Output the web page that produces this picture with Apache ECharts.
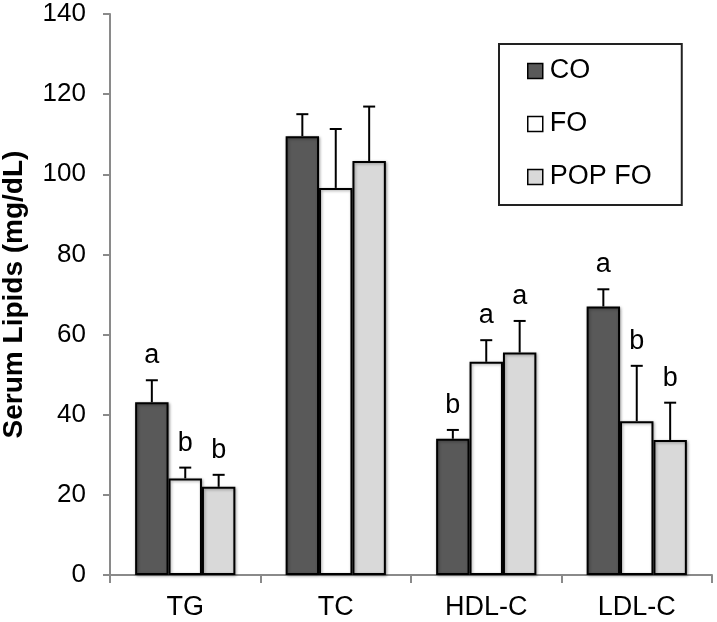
<!DOCTYPE html>
<html><head><meta charset="utf-8">
<script src="https://cdn.jsdelivr.net/npm/echarts@6/dist/echarts.min.js"></script>
<style>html,body{margin:0;padding:0;background:#fff}#c{width:717px;height:622px}</style>
</head><body><div id="c"></div>
<script>
var categories = ['TG', 'TC', 'HDL-C', 'LDL-C'];
var seriesNames = ['CO', 'FO', 'POP FO'];
var coValues = [43.1, 109.5, 34.0, 67.0];
var foValues = [24.1, 96.6, 53.2, 38.4];
var popValues = [22.0, 103.3, 55.5, 33.7];
var coErr = [48.6, 115.0, 36.2, 71.3];
var foErr = [26.8, 111.3, 58.6, 52.2];
var popErr = [25.0, 116.9, 63.4, 43.0];
var coLetters = ['a', '', 'b', 'a'];
var foLetters = ['b', '', 'a', 'b'];
var popLetters = ['b', '', 'a', 'b'];
var yTicks = [0, 20, 40, 60, 80, 100, 120, 140];

var colors = ['#595959', '#ffffff', '#d9d9d9'];
var values = [coValues, foValues, popValues];
var errs = [coErr, foErr, popErr];
var letters = [coLetters, foLetters, popLetters];
var FONT = '"Liberation Sans", Arial, sans-serif';
var BW = 0.222;

var chart = echarts.init(document.getElementById('c'));
var series = [];
values.forEach(function (vals, s) {
  series.push({
    name: seriesNames[s], type: 'bar', data: vals, barWidth: (BW * 100) + '%', barGap: '0%',
    itemStyle: { color: colors[s], borderColor: '#000', borderWidth: 2,
      shadowColor: 'rgba(0,0,0,0.35)', shadowBlur: 3, shadowOffsetX: 1, shadowOffsetY: 1 },
    z: 2
  });
});
values.forEach(function (vals, s) {
  var d = vals.map(function (v, i) { return [i, v, errs[s][i]]; });
  series.push({
    type: 'custom', data: d, z: 5, silent: true,
    renderItem: function (params, api) {
      var i = api.value(0);
      var catW = api.size([1, 0])[0];
      var bw = catW * BW;
      var base = api.coord([i, api.value(1)]);
      var top = api.coord([i, api.value(2)]);
      var x = base[0] + (s - 1) * bw;
      var cap = 6;
      var children = [
        { type: 'line', shape: { x1: x, y1: base[1], x2: x, y2: top[1] }, style: { stroke: '#000', lineWidth: 2 } },
        { type: 'line', shape: { x1: x - cap, y1: top[1], x2: x + cap, y2: top[1] }, style: { stroke: '#000', lineWidth: 2 } }
      ];
      var letter = letters[s][params.dataIndex];
      if (letter) {
        children.push({ type: 'text', style: { text: letter, x: x, y: top[1] - 11, align: 'center', verticalAlign: 'bottom',
          font: '27px ' + FONT, fill: '#000' } });
      }
      return { type: 'group', children: children };
    }
  });
});

chart.setOption({
  animation: false,
  backgroundColor: '#fff',
  grid: { left: 110, right: 5, top: 14, bottom: 47, containLabel: false, outerBoundsMode: 'none' },
  legend: {
    left: 499, top: 44, orient: 'vertical',
    data: seriesNames, itemWidth: 15, itemHeight: 15, itemGap: 25,
    padding: [13, 30, 14, 28],
    borderColor: '#222', borderWidth: 2,
    textStyle: { fontSize: 27, lineHeight: 28, fontFamily: FONT, color: '#000', padding: [0, 0, 0, 2] },
    icon: 'rect',
    itemStyle: { borderColor: '#000', borderWidth: 1.5 }
  },
  xAxis: {
    type: 'category', data: categories,
    axisLine: { lineStyle: { color: '#8a8a8a', width: 2 } },
    axisTick: { show: true, alignWithLabel: false, length: 8, lineStyle: { color: '#8a8a8a', width: 2 } },
    axisLabel: { fontSize: 27, fontFamily: FONT, color: '#000', margin: 19 }
  },
  yAxis: {
    type: 'value', min: 0, max: 140, interval: 20,
    name: 'Serum Lipids (mg/dL)', nameLocation: 'middle', nameGap: 82, nameRotate: 90,
    nameTextStyle: { fontSize: 28, fontWeight: 'bold', fontFamily: FONT, color: '#000' },
    axisLine: { show: true, lineStyle: { color: '#8a8a8a', width: 2 } },
    axisTick: { show: true, length: 7, lineStyle: { color: '#8a8a8a', width: 2 } },
    splitLine: { show: false },
    axisLabel: { fontSize: 26, fontFamily: FONT, color: '#000', margin: 24,
      formatter: function (v) { return yTicks.indexOf(v) >= 0 ? String(v) : ''; } }
  },
  series: series
});
</script></body></html>
